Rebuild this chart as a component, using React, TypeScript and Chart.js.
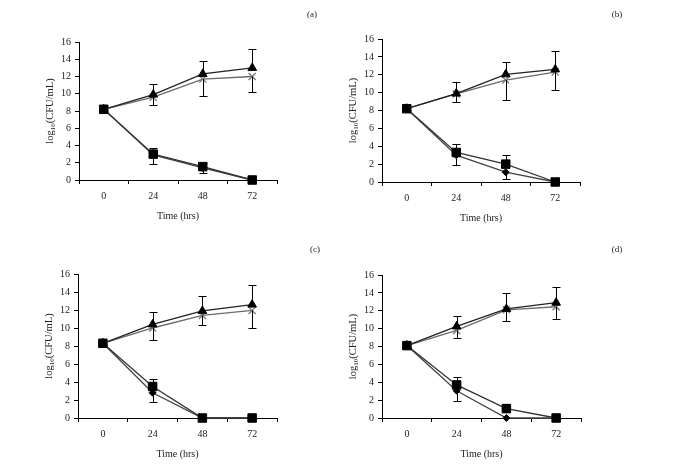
import React, { useEffect, useRef } from 'react';
import { Chart, registerables } from 'chart.js';

Chart.register(...registerables);

// ---------- data ----------
const timeLabels = ['0', '24', '48', '72'];
const yMin = 0;
const yMax = 16;
const yStep = 2;
const xTitle = 'Time (hrs)';
const panelNames = ['(a)', '(b)', '(c)', '(d)'];

// Panel (a)
const aTriangle = [8.2, 9.9, 12.3, 13.0];
const aTriangleErrUp = [0, 1.2, 1.5, 2.2];
const aCross = [8.2, 9.6, 11.7, 12.0];
const aCrossErrDown = [0, 0.9, 2.0, 1.8];
const aSquare = [8.2, 3.0, 1.55, 0];
const aSquareErrUp = [0, 0.7, 0.45, 0];
const aSquareErrDown = [0, 0, 0, 0];
const aDiamond = [8.2, 2.9, 1.4, 0];
const aDiamondErrDown = [0, 1.0, 0.55, 0];

// Panel (b)
const bTriangle = [8.2, 9.9, 12.05, 12.6];
const bTriangleErrUp = [0, 1.3, 1.35, 2.05];
const bCross = [8.2, 9.85, 11.4, 12.3];
const bCrossErrDown = [0, 0.95, 2.2, 2.05];
const bSquare = [8.2, 3.3, 2.0, 0];
const bSquareErrUp = [0, 0.9, 1.0, 0];
const bSquareErrDown = [0, 0, 0, 0];
const bDiamond = [8.2, 3.0, 1.1, 0];
const bDiamondErrDown = [0, 1.05, 0.8, 0];

// Panel (c)
const cTriangle = [8.3, 10.4, 11.9, 12.6];
const cTriangleErrUp = [0, 1.4, 1.7, 2.2];
const cCross = [8.3, 10.0, 11.4, 11.95];
const cCrossErrDown = [0, 1.3, 1.1, 2.0];
const cSquare = [8.3, 3.5, 0, 0];
const cSquareErrUp = [0, 0.8, 0, 0];
const cSquareErrDown = [0, 0, 0, 0];
const cDiamond = [8.3, 2.8, 0, 0];
const cDiamondErrDown = [0, 1.0, 0, 0];

// Panel (d)
const dTriangle = [8.1, 10.25, 12.2, 12.9];
const dTriangleErrUp = [0, 1.15, 1.8, 1.8];
const dCross = [8.1, 9.8, 12.1, 12.45];
const dCrossErrDown = [0, 0.85, 1.3, 1.4];
const dSquare = [8.1, 3.7, 1.05, 0];
const dSquareErrUp = [0, 0.85, 0.55, 0];
const dSquareErrDown = [0, 0, 0.35, 0];
const dDiamond = [8.1, 3.05, 0, 0];
const dDiamondErrDown = [0, 1.15, 0, 0];

const panelData = [
  { tri: aTriangle, triUp: aTriangleErrUp, cross: aCross, crossDown: aCrossErrDown, sq: aSquare, sqUp: aSquareErrUp, sqDown: aSquareErrDown, dia: aDiamond, diaDown: aDiamondErrDown },
  { tri: bTriangle, triUp: bTriangleErrUp, cross: bCross, crossDown: bCrossErrDown, sq: bSquare, sqUp: bSquareErrUp, sqDown: bSquareErrDown, dia: bDiamond, diaDown: bDiamondErrDown },
  { tri: cTriangle, triUp: cTriangleErrUp, cross: cCross, crossDown: cCrossErrDown, sq: cSquare, sqUp: cSquareErrUp, sqDown: cSquareErrDown, dia: cDiamond, diaDown: cDiamondErrDown },
  { tri: dTriangle, triUp: dTriangleErrUp, cross: dCross, crossDown: dCrossErrDown, sq: dSquare, sqUp: dSquareErrUp, sqDown: dSquareErrDown, dia: dDiamond, diaDown: dDiamondErrDown },
];

// ---------- layout (canvas frames & paddings) ----------
const Y_AXIS_W = 30;
const X_AXIS_H = 30;
const frames = [
  { x: 0, y: 0, w: 342, h: 230, pad: { left: 49, right: 65, top: 42, bottom: 20 }, label: { x: 312, y: 15 } },
  { x: 342, y: 0, w: 343, h: 230, pad: { left: 10, right: 105, top: 39, bottom: 18 }, label: { x: 275, y: 15 } },
  { x: 0, y: 230, w: 342, h: 243, pad: { left: 48, right: 65, top: 44, bottom: 25 }, label: { x: 315, y: 20 } },
  { x: 342, y: 230, w: 343, h: 243, pad: { left: 10, right: 104, top: 45, bottom: 25 }, label: { x: 275, y: 20 } },
];

const FONT = "'Liberation Serif', 'Times New Roman', serif";

const errorBarPlugin = {
  id: 'errorBars',
  afterDatasetsDraw(chart: any) {
    const ctx = chart.ctx;
    const y = chart.scales.y;
    ctx.save();
    ctx.strokeStyle = '#000';
    ctx.lineWidth = 1;
    chart.data.datasets.forEach((ds: any, i: number) => {
      const meta = chart.getDatasetMeta(i);
      ds.data.forEach((v: number, j: number) => {
        const px = Math.round(meta.data[j].x) + 0.5;
        const py = y.getPixelForValue(v);
        const up = ds.errUp ? ds.errUp[j] : 0;
        const down = ds.errDown ? ds.errDown[j] : 0;
        const draw = (val: number) => {
          const ey = Math.round(y.getPixelForValue(val)) + 0.5;
          ctx.beginPath();
          ctx.moveTo(px, py);
          ctx.lineTo(px, ey);
          ctx.moveTo(px - 4, ey);
          ctx.lineTo(px + 4, ey);
          ctx.stroke();
        };
        if (up > 0) draw(v + up);
        if (down > 0) draw(v - down);
      });
    });
    ctx.restore();
  },
};

const textPlugin = {
  id: 'texts',
  afterDraw(chart: any) {
    const ctx = chart.ctx;
    const opts = chart.options.plugins.texts;
    const area = chart.chartArea;
    ctx.save();
    ctx.fillStyle = '#222';
    // x title
    ctx.font = `10px ${FONT}`;
    ctx.textAlign = 'center';
    ctx.textBaseline = 'middle';
    ctx.fillText(xTitle, (area.left + area.right) / 2, area.bottom + 36);
    // panel label
    ctx.font = `9px ${FONT}`;
    ctx.fillText(opts.name, opts.lx, opts.ly);
    // y title with subscript
    const cx = area.left - 29;
    const cy = (area.top + area.bottom) / 2;
    ctx.translate(cx, cy);
    ctx.rotate(-Math.PI / 2);
    ctx.textAlign = 'left';
    ctx.textBaseline = 'middle';
    const big = `10.5px ${FONT}`;
    const small = `7px ${FONT}`;
    ctx.font = big;
    const w1 = ctx.measureText('log').width;
    const w3 = ctx.measureText('(CFU/mL)').width;
    ctx.font = small;
    const w2 = ctx.measureText('10').width;
    let x0 = -(w1 + w2 + w3) / 2;
    ctx.font = big;
    ctx.fillText('log', x0, 0);
    x0 += w1;
    ctx.font = small;
    ctx.fillText('10', x0, 3);
    x0 += w2;
    ctx.font = big;
    ctx.fillText('(CFU/mL)', x0, 0);
    ctx.restore();
  },
};

function buildConfig(idx: number): any {
  const d = panelData[idx];
  const f = frames[idx];
  const common = { clip: false as any, borderWidth: 1.3, pointBorderWidth: 1 };
  return {
    type: 'line',
    data: {
      labels: timeLabels,
      datasets: [
        { ...common, data: d.tri, errUp: d.triUp, borderColor: '#222', pointStyle: 'triangle', pointRadius: 5, pointBackgroundColor: '#000', pointBorderColor: '#000' },
        { ...common, data: d.sq, errUp: d.sqUp, errDown: d.sqDown, borderColor: '#333', pointStyle: 'rect', pointRadius: 6, pointBackgroundColor: '#000', pointBorderColor: '#000' },
        { ...common, data: d.cross, errDown: d.crossDown, borderColor: '#6a6a6a', pointStyle: 'crossRot', pointRadius: 5, pointBorderWidth: 1.3, pointBackgroundColor: '#777', pointBorderColor: '#777' },
        { ...common, data: d.dia, errDown: d.diaDown, borderColor: '#444', pointStyle: 'rectRot', pointRadius: 3.5, pointBackgroundColor: '#000', pointBorderColor: '#000' },
      ],
    },
    options: {
      responsive: false,
      maintainAspectRatio: false,
      animation: false,
      events: [],
      layout: { padding: f.pad },
      plugins: {
        legend: { display: false },
        tooltip: { enabled: false },
        texts: { name: panelNames[idx], lx: f.label.x, ly: f.label.y },
      },
      scales: {
        x: {
          type: 'category',
          offset: true,
          afterFit: (s: any) => { s.height = X_AXIS_H; },
          grid: { display: true, offset: true, drawOnChartArea: false, drawTicks: true, tickLength: 4, color: '#000', tickColor: '#000' },
          border: { display: true, color: '#000', width: 1 },
          ticks: { color: '#222', font: { family: FONT, size: 10 }, padding: 6, maxRotation: 0 },
        },
        y: {
          type: 'linear',
          min: yMin,
          max: yMax,
          afterFit: (s: any) => { s.width = Y_AXIS_W; },
          grid: { display: true, drawOnChartArea: false, drawTicks: true, tickLength: 4, color: '#000', tickColor: '#000' },
          border: { display: true, color: '#000', width: 1 },
          ticks: { stepSize: yStep, color: '#222', font: { family: FONT, size: 10 }, padding: 4 },
        },
      },
    },
    plugins: [errorBarPlugin, textPlugin],
  };
}

function Panel({ idx }: { idx: number }) {
  const ref = useRef<HTMLCanvasElement>(null);
  const f = frames[idx];
  useEffect(() => {
    if (!ref.current) return;
    const chart = new Chart(ref.current, buildConfig(idx));
    return () => chart.destroy();
  }, [idx]);
  return (
    <canvas
      ref={ref}
      width={f.w}
      height={f.h}
      style={{ position: 'absolute', left: f.x, top: f.y, width: f.w, height: f.h }}
    />
  );
}

export default function App() {
  return (
    <div style={{ position: 'absolute', left: 0, top: 0, width: 685, height: 473, background: '#fff', overflow: 'hidden' }}>
      {[0, 1, 2, 3].map((i) => (
        <Panel key={i} idx={i} />
      ))}
    </div>
  );
}
